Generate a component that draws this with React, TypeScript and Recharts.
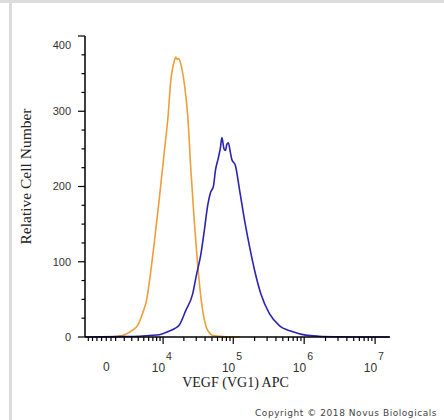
import { LineChart, Line, XAxis, YAxis, Label } from "recharts";

// x positions are in display units of the biexponential axis (4 = 10^4, 5 = 10^5 ...)
const isotypeX = [3.28, 3.37, 3.47, 3.58, 3.65, 3.72, 3.78, 3.82, 3.89, 3.96, 4.03, 4.08, 4.12, 4.17, 4.19, 4.21, 4.23, 4.26, 4.31, 4.36, 4.4, 4.45, 4.48, 4.51, 4.55, 4.59, 4.62, 4.66, 4.71, 4.8, 4.94, 5.09];
const isotypeCount = [0, 1, 3, 9, 15, 31, 50, 75, 128, 186, 248, 292, 341, 367, 372, 369, 370, 363, 337, 292, 226, 155, 118, 84, 48, 24, 13, 6, 2, 1, 0, 0];

const vegfX = [2.91, 3.39, 3.68, 3.82, 3.96, 4.1, 4.17, 4.24, 4.33, 4.43, 4.48, 4.54, 4.59, 4.64, 4.68, 4.72, 4.75, 4.79, 4.82, 4.84, 4.87, 4.89, 4.91, 4.93, 4.96, 4.98, 5.03, 5.09, 5.16, 5.23, 5.3, 5.39, 5.51, 5.65, 5.84, 6.02, 6.21, 6.49, 6.78, 7.2];
const vegfCount = [0, 0.5, 1, 2, 3, 8, 11, 16, 35, 58, 82, 108, 140, 175, 192, 200, 222, 238, 252, 265, 250, 248, 256, 258, 245, 236, 228, 195, 155, 120, 89, 57, 31, 15, 7, 2.5, 1, 0.3, 0, 0];

const yTicks = [0, 25, 50, 75, 100, 125, 150, 175, 200, 225, 250, 275, 300, 325, 350, 375, 400];
const yLabels = [0, 100, 200, 300, 400];

const xMajorTicks = [1e4, 1e5, 1e6, 1e7];
const xMajorExp = ["4", "5", "6", "7"];
const xMinorTicks = [
  -2000, -1500, -1000, -500, 0, 500, 1000, 2000, 3000, 4000, 5000, 6000, 7000, 8000, 9000,
  2e4, 3e4, 4e4, 5e4, 6e4, 7e4, 8e4, 9e4,
  2e5, 3e5, 4e5, 5e5, 6e5, 7e5, 8e5, 9e5,
  2e6, 3e6, 4e6, 5e6, 6e6, 7e6, 8e6, 9e6,
];

const isotype = isotypeX.map((u, i) => ({ u, count: isotypeCount[i] }));
const vegf = vegfX.map((u, i) => ({ u, count: vegfCount[i] }));

// arcsinh-style transform standing in for the logicle scale
const A = 1622;
const toAxis = (v: number) => Math.log10((v + Math.sqrt(v * v + 4 * A * A)) / 2);

const tickInfo = new Map<number, { major: boolean; zero?: boolean; exp?: string }>();
xMinorTicks.forEach((v) => tickInfo.set(toAxis(v), { major: false, zero: v === 0 }));
xMajorTicks.forEach((v, i) => tickInfo.set(toAxis(v), { major: true, exp: xMajorExp[i] }));
const xTicks = Array.from(tickInfo.keys()).sort((a, b) => a - b);

const tickFont = "'Liberation Sans', Arial, sans-serif";
const serif = "'Liberation Serif', 'Times New Roman', serif";

const YTick = (props: any) => {
  const { x, y, payload } = props;
  const v = payload.value;
  const major = yLabels.includes(v);
  return (
    <g>
      <line x1={x - (major ? 7 : 3.5)} x2={x} y1={y} y2={y} stroke="#000" strokeWidth={1.2} />
      {major && (
        <text x={x - 14} y={y + (v === 400 ? 9 : 0)} dy="0.36em" textAnchor="end" fontSize={11} fontFamily={tickFont} fill="#333">
          {v}
        </text>
      )}
    </g>
  );
};

const XTick = (props: any) => {
  const { x, y, payload } = props;
  const info = tickInfo.get(payload.value);
  if (!info) return null;
  return (
    <g>
      <line x1={x} x2={x} y1={y} y2={y + (info.major ? 7 : 4)} stroke="#000" strokeWidth={1.2} />
      {info.zero && (
        <text x={x} y={y + 34} textAnchor="middle" fontSize={12} fontFamily={tickFont} fill="#333">
          0
        </text>
      )}
      {info.major && (
        <text x={x + 2} y={y + 35} textAnchor="end" fontSize={12} fontFamily={tickFont} fill="#333">
          10
        </text>
      )}
      {info.major && (
        <text x={x + 3} y={y + 23} textAnchor="start" fontSize={10.5} fontFamily={tickFont} fill="#333">
          {info.exp}
        </text>
      )}
    </g>
  );
};

export default function App() {
  return (
    <div style={{ position: "absolute", left: 0, top: 0, width: 444, height: 420, background: "#fff", overflow: "hidden" }}>
      <div style={{ position: "absolute", left: 0, top: 0, width: 444, height: 3, background: "#dcdcdc" }} />
      <div style={{ position: "absolute", left: 9, top: 0, width: 3, height: 420, background: "#dcdcdc" }} />
      <LineChart width={444} height={420} margin={{ top: 36, right: 54, bottom: 0, left: 1 }}>
        <XAxis
          type="number"
          dataKey="u"
          domain={[2.91, 7.21]}
          ticks={xTicks}
          interval={0}
          height={83}
          tickSize={0}
          tickMargin={0}
          tickLine={false}
          axisLine={{ stroke: "#000", strokeWidth: 1.5 }}
          tick={XTick}
        >
          <Label
            content={({ viewBox }: any) => (
              <text x={viewBox.x + viewBox.width / 2 - 2} y={viewBox.y + 50} textAnchor="middle" fontSize={14} fontFamily={serif} fill="#222">
                VEGF (VG1) APC
              </text>
            )}
          />
        </XAxis>
        <YAxis
          type="number"
          domain={[0, 400]}
          ticks={yTicks}
          interval={0}
          width={84}
          tickSize={0}
          tickMargin={0}
          tickLine={false}
          axisLine={{ stroke: "#000", strokeWidth: 1.5 }}
          tick={YTick}
        >
          <Label
            content={({ viewBox }: any) => {
              const cx = 26;
              const cy = viewBox.y + viewBox.height / 2 - 10;
              return (
                <text x={cx} y={cy} dy="0.35em" textAnchor="middle" transform={`rotate(-90, ${cx}, ${cy})`} fontSize={15.5} fontFamily={serif} fill="#222">
                  Relative Cell Number
                </text>
              );
            }}
          />
        </YAxis>
        <Line data={isotype} dataKey="count" type="monotone" stroke="#EE9E3A" strokeWidth={1.6} dot={false} isAnimationActive={false} />
        <Line data={vegf} dataKey="count" type="monotone" stroke="#2B24B0" strokeWidth={1.6} dot={false} isAnimationActive={false} />
      </LineChart>
      <div
        style={{
          position: "absolute",
          left: 255,
          top: 408,
          whiteSpace: "nowrap",
          fontFamily: "'DejaVu Sans', Verdana, sans-serif",
          fontSize: 9,
          letterSpacing: 0.55,
          color: "#444",
        }}
      >
        Copyright © 2018 Novus Biologicals
      </div>
    </div>
  );
}
